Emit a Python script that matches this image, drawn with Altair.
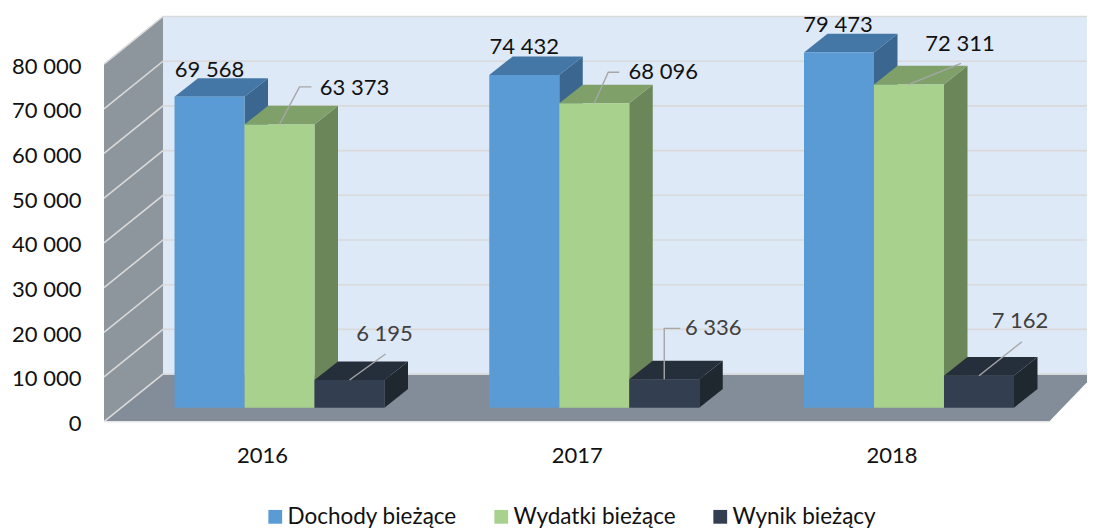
import altair as alt
import pandas as pd

years = [2016, 2017, 2018]
series = ["Dochody bieżące", "Wydatki bieżące", "Wynik bieżący"]
dochody = [69568, 74432, 79473]
wydatki = [63373, 68096, 72311]
wynik = [6195, 6336, 7162]
text_dochody = ["69 568", "74 432", "79 473"]
text_wydatki = ["63 373", "68 096", "72 311"]
text_wynik = ["6 195", "6 336", "7 162"]
y_ticks = [0, 10000, 20000, 30000, 40000, 50000, 60000, 70000, 80000]

front = ["#5B9BD5", "#A9D18E", "#333F50"]
top = ["#4577A6", "#7FA169", "#252E3B"]
side = ["#3A668F", "#6B8659", "#1F272F"]
INK = "#111111"
GREY_INK = "#404040"
LEADER = "#A6A6A6"
GRID = "#D9D9D9"
FONT = "Lato"
FS = 22

# scale factors: one category step and one value unit in pixels
PX_X = 314.75
PX_Y = 0.00447
VIEW_W = 983
VIEW_H = 411.24
x_dom = [2016 - 158 / PX_X, 2016 - 158 / PX_X + VIEW_W / PX_X]
y_dom = [0, VIEW_H / PX_Y]


def dx(p):
    return p / PX_X


def dy(p):
    return p / PX_Y


BAR_LEFT = dx(-87.5)
BAR_W = dx(70)
DEPTH_X = dx(23.5)
DEPTH_Y = dy(18.6)
BASE = dy(14)
WALL_X = dx(59)
WALL_Y = dy(47.6)
AX_X = x_dom[0]

X = alt.X(
    "x:Q",
    scale=alt.Scale(domain=x_dom, nice=False, zero=False),
    axis=alt.Axis(
        values=years,
        format="d",
        title=None,
        domain=False,
        ticks=False,
        grid=False,
        labelFont=FONT,
        labelFontSize=FS,
        labelColor=INK,
        labelPadding=24,
        labelFlush=False,
    ),
)
Y = alt.Y(
    "y:Q",
    scale=alt.Scale(domain=y_dom, nice=False, zero=False),
    axis=alt.Axis(
        values=y_ticks,
        labelExpr="replace(format(datum.value, ','), ',', ' ')",
        title=None,
        domain=False,
        ticks=False,
        grid=False,
        labelFont=FONT,
        labelFontSize=FS,
        labelColor=INK,
        labelPadding=23,
        labelFlush=False,
        labelOffset=2,
    ),
)
Y2 = alt.Y2("y2:Q")
X2 = alt.X2("x2:Q")


def area(rows, color, detail=False):
    enc = dict(x=X, y=Y, y2=Y2)
    if detail:
        enc["detail"] = "g:N"
    return (
        alt.Chart(pd.DataFrame(rows))
        .mark_area(color=color, interpolate="linear", opacity=1, strokeWidth=0)
        .encode(**enc)
    )


layers = []

# back wall
wall_left = AX_X + WALL_X
wall_right = AX_X + dx(991)
layers.append(
    alt.Chart(pd.DataFrame([dict(x=wall_left, x2=wall_right, y=WALL_Y, y2=80000 + WALL_Y)]))
    .mark_rect(color="#DEE9F8")
    .encode(x=X, x2=X2, y=Y, y2=Y2)
)
# side wall
layers.append(
    area(
        [
            dict(x=AX_X, y=0, y2=80000),
            dict(x=wall_left, y=WALL_Y, y2=80000 + WALL_Y),
        ],
        "#8E969D",
    )
)
# floor
floor_front = AX_X + dx(945)
layers.append(
    area(
        [
            dict(x=AX_X, y=0, y2=0),
            dict(x=wall_left, y=0, y2=WALL_Y),
            dict(x=floor_front, y=0, y2=WALL_Y),
            dict(x=wall_right, y=WALL_Y, y2=WALL_Y),
        ],
        "#838D99",
    )
)
# grid
grid_rows = []
for t in y_ticks:
    grid_rows += [
        dict(x=AX_X, y=t, g=t),
        dict(x=wall_left, y=t + WALL_Y, g=t),
        dict(x=wall_right, y=t + WALL_Y, g=t),
    ]
layers.append(
    alt.Chart(pd.DataFrame(grid_rows))
    .mark_line(color=GRID, strokeWidth=1.6, interpolate="linear")
    .encode(x=X, y=Y, detail="g:N", order="x:Q")
)
layers.append(
    alt.Chart(pd.DataFrame([dict(x=AX_X, y=0), dict(x=floor_front, y=0)]))
    .mark_line(color="#E8E8E8", strokeWidth=1.5)
    .encode(x=X, y=Y)
)

# bars
color_enc = alt.Color(
    "s:N",
    scale=alt.Scale(domain=series, range=front),
    legend=alt.Legend(
        title=None,
        orient="none",
        legendX=160,
        legendY=495,
        direction="horizontal",
        columns=3,
        columnPadding=33,
        symbolType="square",
        symbolSize=190,
        symbolStrokeWidth=0,
        labelFont=FONT,
        labelFontSize=22.5,
        labelColor=INK,
        labelOffset=1,
        labelLimit=0,
        padding=0,
    ),
)
for i, vals in enumerate([dochody, wydatki, wynik]):
    side_rows, top_rows, front_rows = [], [], []
    for yr, v in zip(years, vals):
        x0 = yr + BAR_LEFT + i * BAR_W
        x1 = x0 + BAR_W
        t = BASE + v
        side_rows += [
            dict(x=x1, y=BASE, y2=t, g=yr),
            dict(x=x1 + DEPTH_X, y=BASE + DEPTH_Y, y2=t + DEPTH_Y, g=yr),
        ]
        top_rows += [
            dict(x=x0, y=t, y2=t, g=yr),
            dict(x=x0 + DEPTH_X, y=t, y2=t + DEPTH_Y, g=yr),
            dict(x=x1, y=t, y2=t + DEPTH_Y, g=yr),
            dict(x=x1 + DEPTH_X, y=t + DEPTH_Y, y2=t + DEPTH_Y, g=yr),
        ]
        front_rows.append(dict(x=x0, x2=x1, y=BASE, y2=t, s=series[i]))
    layers.append(area(side_rows, side[i], detail=True))
    layers.append(area(top_rows, top[i], detail=True))
    layers.append(
        alt.Chart(pd.DataFrame(front_rows))
        .mark_rect()
        .encode(x=X, x2=X2, y=Y, y2=Y2, color=color_enc)
    )

# leader lines: (series index, year index, elbow offsets from the top-centre of the bar)
leaders = [
    (1, 0, [(20, 37.5), (32, 37.5)]),
    (2, 0, [(36, 26)]),
    (1, 1, [(14, 31), (25, 31)]),
    (2, 1, [(0, 51), (16, 51)]),
    (1, 2, [(52, 21)]),
    (2, 2, [(43, 34)]),
]
all_vals = [dochody, wydatki, wynik]
leader_rows = []
for n, (si, yi, pts) in enumerate(leaders):
    cx = years[yi] + BAR_LEFT + si * BAR_W + BAR_W / 2
    ct = BASE + all_vals[si][yi]
    leader_rows.append(dict(x=cx, y=ct, g=n, o=0))
    for k, (ox, oy) in enumerate(pts):
        leader_rows.append(dict(x=cx + dx(ox), y=ct + dy(oy), g=n, o=k + 1))
layers.append(
    alt.Chart(pd.DataFrame(leader_rows))
    .mark_line(color=LEADER, strokeWidth=1.4)
    .encode(x=X, y=Y, detail="g:N", order="o:Q")
)

# data labels: offset of text centre from the top-centre of the bar
label_off = {
    0: [(0, 27), (0, 28), (-1, 27)],
    1: [(75, 36.5), (69, 31.5), (51, 40)],
    2: [(35, 46), (49, 51), (41, 55)],
}
label_rows = []
for si, texts in enumerate([text_dochody, text_wydatki, text_wynik]):
    for yi, txt in enumerate(texts):
        cx = years[yi] + BAR_LEFT + si * BAR_W + BAR_W / 2
        ct = BASE + all_vals[si][yi]
        ox, oy = label_off[si][yi]
        label_rows.append(
            dict(x=cx + dx(ox), y=ct + dy(oy), t=txt, c=GREY_INK if si == 2 else INK)
        )
layers.append(
    alt.Chart(pd.DataFrame(label_rows))
    .mark_text(font=FONT, fontSize=FS, align="center", baseline="middle")
    .encode(x=X, y=Y, text="t:N", color=alt.Color("c:N", scale=None, legend=None))
)

chart = (
    alt.layer(*layers)
    .properties(
        width=VIEW_W,
        height=VIEW_H,
        padding={"left": 96, "top": 2.46, "right": 0, "bottom": 107},
        autosize=alt.AutoSizeParams(type="none"),
    )
    .configure_view(stroke=None)
)
chart.save("out.html", embed_options={"renderer": "svg", "actions": False})
